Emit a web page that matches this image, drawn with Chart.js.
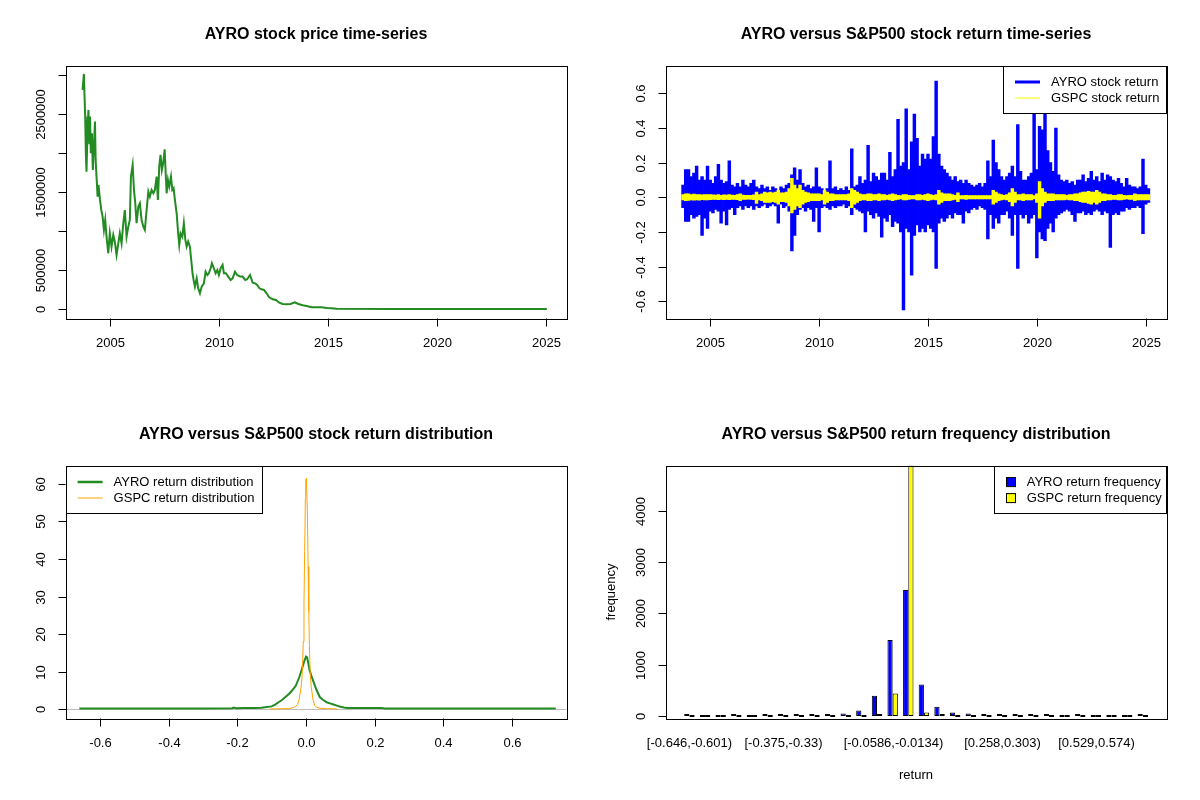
<!DOCTYPE html>
<html>
<head>
<meta charset="utf-8">
<script src="https://cdn.jsdelivr.net/npm/chart.js@4.4.1/dist/chart.umd.min.js"></script>
<style>
body { margin: 0; background: #fff; }
#wrap { position: relative; width: 1200px; height: 800px; }
canvas { position: absolute; }
</style>
</head>
<body>
<div id="wrap">
  <canvas id="priceChart" width="600" height="400" style="left:0;top:0"></canvas>
  <canvas id="returnChart" width="600" height="400" style="left:600px;top:0"></canvas>
  <canvas id="densityChart" width="600" height="400" style="left:0;top:400px"></canvas>
  <canvas id="histChart" width="600" height="400" style="left:600px;top:400px"></canvas>
</div>
<script>
// ---- data ----

// AYRO price (decimal year, price)
const priceYears = [2003.73, 2003.79, 2003.82, 2003.85, 2003.88, 2003.91, 2003.96, 2004.00, 2004.04, 2004.07,
  2004.11, 2004.16, 2004.20, 2004.25, 2004.30, 2004.33, 2004.37, 2004.42, 2004.46, 2004.53,
  2004.59, 2004.65, 2004.71, 2004.77, 2004.83, 2004.91, 2004.98, 2005.06, 2005.14, 2005.21,
  2005.29, 2005.37, 2005.44, 2005.52, 2005.60, 2005.67, 2005.75, 2005.83, 2005.90, 2005.95,
  2006.03, 2006.09, 2006.15, 2006.21, 2006.29, 2006.36, 2006.44, 2006.52, 2006.59, 2006.67,
  2006.75, 2006.82, 2006.90, 2006.98, 2007.05, 2007.13, 2007.19, 2007.25, 2007.31, 2007.37,
  2007.43, 2007.50, 2007.54, 2007.59, 2007.65, 2007.71, 2007.79, 2007.85, 2007.91, 2007.97,
  2008.05, 2008.12, 2008.17, 2008.23, 2008.31, 2008.38, 2008.45, 2008.51, 2008.58, 2008.66,
  2008.72, 2008.78, 2008.83, 2008.89, 2008.97, 2009.04, 2009.12, 2009.20, 2009.30, 2009.38,
  2009.46, 2009.53, 2009.61, 2009.67, 2009.76, 2009.84, 2009.92, 2009.99, 2010.07, 2010.16,
  2010.22, 2010.31, 2010.42, 2010.53, 2010.62, 2010.73, 2010.83, 2010.96, 2011.08, 2011.20,
  2011.29, 2011.42, 2011.54, 2011.65, 2011.75, 2011.85, 2011.95, 2012.06, 2012.18, 2012.30,
  2012.46, 2012.61, 2012.76, 2012.92, 2013.10, 2013.28, 2013.48, 2013.64, 2013.84, 2014.02,
  2014.25, 2014.48, 2014.71, 2014.94, 2015.17, 2015.40, 2018.00, 2025.05];
const priceValues = [2812000, 3017000, 2726000, 2470000, 2000000, 1765000, 2342000, 2556000, 2128000, 2470000,
  2000000, 2256000, 1786000, 2085000, 2406000, 1915000, 1701000, 1444000, 1594000, 1402000,
  1273000, 1188000, 1017000, 1145000, 932000, 718000, 974000, 803000, 953000, 868000,
  697000, 846000, 974000, 846000, 1103000, 1273000, 932000, 1060000, 1145000, 1701000,
  1850000, 1530000, 1359000, 1103000, 1316000, 1359000, 1145000, 1060000, 1017000, 1273000,
  1509000, 1444000, 1530000, 1487000, 1530000, 1701000, 1402000, 1829000, 1979000, 1786000,
  1872000, 2051000, 1786000, 1487000, 1658000, 1573000, 1701000, 1530000, 1551000, 1402000,
  1231000, 974000, 825000, 974000, 932000, 1103000, 889000, 803000, 868000, 803000,
  632000, 462000, 376000, 291000, 397000, 269000, 205000, 291000, 333000, 483000,
  440000, 462000, 526000, 590000, 526000, 462000, 504000, 440000, 526000, 568000,
  462000, 462000, 419000, 376000, 397000, 483000, 440000, 419000, 419000, 376000,
  385000, 440000, 342000, 333000, 312000, 269000, 256000, 248000, 205000, 154000,
  128000, 120000, 85000, 68000, 64000, 68000, 90000, 68000, 51000, 43000,
  26000, 26000, 26000, 17000, 13000, 8500, 5000, 4000];

// daily returns summarised as high / low swing per 1.5-month step, from 2003.75
const returnStart = 2003.75;
const returnStep = 1 / 8;
const ayroHigh = [
  0.07, 0.16,
  0.16, 0.12, 0.14, 0.18, 0.10, 0.12, 0.10, 0.18,
  0.10, 0.08, 0.12, 0.19, 0.10, 0.08, 0.09, 0.21,
  0.07, 0.06, 0.08, 0.06, 0.10, 0.07, 0.06, 0.08,
  0.10, 0.06, 0.05, 0.07, 0.05, 0.06, 0.04, 0.06,
  0.05, 0.04, 0.06, 0.05, 0.07, 0.08, 0.13, 0.17,
  0.10, 0.16, 0.08, 0.06, 0.07, 0.05, 0.06, 0.17,
  0.06, 0.05, 0.04, 0.05, 0.21, 0.05, 0.06, 0.04,
  0.05, 0.04, 0.06, 0.04, 0.28, 0.06, 0.07, 0.12,
  0.08, 0.10, 0.30, 0.09, 0.14, 0.12, 0.10, 0.14,
  0.14, 0.10, 0.26, 0.12, 0.16, 0.45, 0.18, 0.20,
  0.51, 0.16, 0.32, 0.48, 0.34, 0.18, 0.25, 0.22,
  0.25, 0.22, 0.35, 0.67, 0.25, 0.18, 0.16, 0.14,
  0.12, 0.10, 0.12, 0.09, 0.10, 0.08, 0.10, 0.08,
  0.07, 0.06, 0.07, 0.08, 0.06, 0.08, 0.21, 0.12,
  0.33, 0.20, 0.16, 0.12, 0.10, 0.12, 0.14, 0.18,
  0.12, 0.42, 0.15, 0.10, 0.10, 0.12, 0.14, 0.50,
  0.16, 0.41, 0.39, 0.48, 0.27, 0.20, 0.15, 0.40,
  0.13, 0.10, 0.09, 0.10, 0.08, 0.09, 0.07, 0.10,
  0.10, 0.13, 0.09, 0.11, 0.15, 0.10, 0.12, 0.09,
  0.14, 0.10, 0.13, 0.12, 0.10, 0.09, 0.11, 0.08,
  0.06, 0.11, 0.07, 0.06, 0.06, 0.05, 0.06, 0.22,
  0.07, 0.05];
const ayroLow = [
  -0.06, -0.14,
  -0.14, -0.10, -0.12, -0.11, -0.10, -0.22, -0.12, -0.18,
  -0.08, -0.09, -0.07, -0.08, -0.15, -0.08, -0.16, -0.07,
  -0.06, -0.10, -0.06, -0.05, -0.07, -0.05, -0.06, -0.05,
  -0.07, -0.05, -0.06, -0.05, -0.04, -0.06, -0.05, -0.04,
  -0.05, -0.15, -0.04, -0.06, -0.05, -0.08, -0.31, -0.22,
  -0.10, -0.07, -0.06, -0.08, -0.06, -0.07, -0.14, -0.06,
  -0.20, -0.06, -0.05, -0.06, -0.07, -0.05, -0.06, -0.05,
  -0.05, -0.04, -0.06, -0.05, -0.10, -0.06, -0.07, -0.08,
  -0.09, -0.20, -0.08, -0.10, -0.12, -0.09, -0.11, -0.23,
  -0.12, -0.14, -0.10, -0.17, -0.14, -0.15, -0.20, -0.65,
  -0.18, -0.20, -0.45, -0.22, -0.16, -0.20, -0.18, -0.20,
  -0.16, -0.18, -0.20, -0.41, -0.15, -0.12, -0.14, -0.12,
  -0.10, -0.12, -0.09, -0.10, -0.10, -0.15, -0.08, -0.09,
  -0.07, -0.06, -0.07, -0.05, -0.06, -0.07, -0.24, -0.10,
  -0.18, -0.12, -0.15, -0.10, -0.10, -0.08, -0.12, -0.22,
  -0.10, -0.41, -0.10, -0.12, -0.10, -0.15, -0.12, -0.10,
  -0.35, -0.20, -0.24, -0.25, -0.18, -0.15, -0.20, -0.12,
  -0.10, -0.09, -0.08, -0.07, -0.08, -0.10, -0.14, -0.09,
  -0.09, -0.08, -0.10, -0.09, -0.10, -0.08, -0.07, -0.08,
  -0.10, -0.08, -0.09, -0.29, -0.10, -0.09, -0.10, -0.08,
  -0.08, -0.06, -0.07, -0.06, -0.06, -0.05, -0.06, -0.21,
  -0.04, -0.03];
const gspcHigh = [
  0.015, 0.02,
  0.02, 0.015, 0.018, 0.015, 0.016, 0.014, 0.016, 0.015,
  0.015, 0.014, 0.013, 0.015, 0.012, 0.014, 0.013, 0.015,
  0.013, 0.012, 0.015, 0.02, 0.013, 0.012, 0.011, 0.012,
  0.014, 0.03, 0.015, 0.02, 0.03, 0.025, 0.03, 0.025,
  0.03, 0.04, 0.025, 0.025, 0.03, 0.05, 0.11, 0.07,
  0.05, 0.07, 0.04, 0.03, 0.025, 0.02, 0.02, 0.02,
  0.02, 0.015, 0.04, 0.03, 0.02, 0.02, 0.015, 0.015,
  0.015, 0.015, 0.015, 0.02, 0.05, 0.04, 0.03, 0.02,
  0.015, 0.015, 0.02, 0.02, 0.015, 0.015, 0.02, 0.015,
  0.015, 0.012, 0.015, 0.02, 0.015, 0.012, 0.01, 0.015,
  0.015, 0.012, 0.01, 0.01, 0.015, 0.015, 0.012, 0.015,
  0.02, 0.015, 0.012, 0.015, 0.04, 0.025, 0.02, 0.02,
  0.02, 0.015, 0.012, 0.025, 0.01, 0.01, 0.012, 0.01,
  0.01, 0.01, 0.01, 0.01, 0.01, 0.01, 0.01, 0.01,
  0.04, 0.03, 0.02, 0.015, 0.012, 0.015, 0.025, 0.05,
  0.03, 0.015, 0.015, 0.02, 0.015, 0.015, 0.015, 0.01,
  0.02, 0.09, 0.05, 0.03, 0.02, 0.02, 0.02, 0.015,
  0.015, 0.015, 0.015, 0.012, 0.015, 0.015, 0.02, 0.02,
  0.025, 0.03, 0.03, 0.035, 0.03, 0.03, 0.04, 0.03,
  0.02, 0.02, 0.015, 0.015, 0.012, 0.012, 0.015, 0.015,
  0.012, 0.01, 0.012, 0.012, 0.02, 0.015, 0.015, 0.015,
  0.015, 0.015];
const gspcLow = [
  -0.015, -0.02,
  -0.018, -0.015, -0.016, -0.015, -0.016, -0.014, -0.015, -0.015,
  -0.014, -0.013, -0.013, -0.014, -0.012, -0.014, -0.013, -0.014,
  -0.012, -0.012, -0.014, -0.02, -0.013, -0.012, -0.011, -0.012,
  -0.014, -0.035, -0.015, -0.02, -0.03, -0.03, -0.03, -0.025,
  -0.03, -0.04, -0.025, -0.025, -0.03, -0.05, -0.09, -0.07,
  -0.05, -0.06, -0.04, -0.03, -0.025, -0.02, -0.02, -0.02,
  -0.02, -0.015, -0.04, -0.03, -0.02, -0.02, -0.015, -0.015,
  -0.015, -0.015, -0.015, -0.02, -0.06, -0.04, -0.03, -0.02,
  -0.015, -0.015, -0.02, -0.02, -0.015, -0.015, -0.02, -0.015,
  -0.015, -0.012, -0.015, -0.02, -0.015, -0.012, -0.01, -0.015,
  -0.015, -0.012, -0.01, -0.01, -0.015, -0.015, -0.012, -0.015,
  -0.02, -0.015, -0.012, -0.015, -0.04, -0.03, -0.02, -0.02,
  -0.02, -0.015, -0.012, -0.025, -0.01, -0.01, -0.012, -0.01,
  -0.01, -0.01, -0.01, -0.01, -0.01, -0.01, -0.01, -0.01,
  -0.04, -0.03, -0.02, -0.015, -0.012, -0.015, -0.025, -0.05,
  -0.03, -0.015, -0.015, -0.02, -0.015, -0.015, -0.015, -0.01,
  -0.03, -0.12, -0.05, -0.03, -0.02, -0.02, -0.02, -0.015,
  -0.015, -0.015, -0.015, -0.012, -0.015, -0.015, -0.02, -0.02,
  -0.025, -0.03, -0.03, -0.035, -0.04, -0.03, -0.04, -0.03,
  -0.02, -0.02, -0.015, -0.015, -0.012, -0.012, -0.015, -0.015,
  -0.012, -0.01, -0.012, -0.012, -0.02, -0.015, -0.015, -0.015,
  -0.015, -0.015];

// return densities
const densAyroX = [-0.66, -0.5, -0.3, -0.215, -0.21, -0.205, -0.18, -0.15, -0.13, -0.12,
  -0.10, -0.09, -0.08, -0.07, -0.06, -0.05, -0.04, -0.03, -0.02, -0.015,
  -0.01, -0.005, 0.0, 0.003, 0.007, 0.01, 0.015, 0.02, 0.03, 0.04,
  0.05, 0.06, 0.07, 0.08, 0.09, 0.10, 0.11, 0.12, 0.20, 0.22,
  0.23, 0.50, 0.727];
const densAyroY = [0.15, 0.15, 0.15, 0.2, 0.4, 0.2, 0.3, 0.3, 0.35, 0.45,
  0.7, 1.2, 1.8, 2.4, 3.2, 4.0, 5.0, 6.2, 8.4, 9.8,
  11.3, 12.8, 14.0, 13.8, 12.0, 10.5, 9.0, 7.7, 5.2, 3.2,
  2.4, 1.8, 1.5, 1.2, 0.9, 0.6, 0.4, 0.3, 0.3, 0.25,
  0.15, 0.12, 0.12];
const densGspcX = [-0.105, -0.09, -0.07, -0.05, -0.04, -0.03, -0.025, -0.02, -0.015, -0.012,
  -0.01, -0.008, -0.006, -0.004, -0.002, -0.001, 0.0, 0.001, 0.002, 0.004,
  0.006, 0.008, 0.01, 0.012, 0.015, 0.02, 0.025, 0.03, 0.04, 0.06,
  0.08, 0.09];
const densGspcY = [0.02, 0.05, 0.08, 0.12, 0.3, 0.7, 1.2, 2.6, 5.5, 8,
  12, 18, 28, 42, 56, 60, 61.4, 61.5, 60, 52,
  38, 26, 16, 10, 6, 2.6, 1.0, 0.5, 0.2, 0.1,
  0.05, 0.02];

// return frequency (30 bins)
const binEdges = [-0.646, -0.601, -0.556, -0.51, -0.465, -0.42, -0.375, -0.33, -0.285, -0.239,
  -0.194, -0.149, -0.104, -0.0586, -0.0134, 0.0318, 0.077, 0.122, 0.167, 0.213,
  0.258, 0.303, 0.348, 0.393, 0.439, 0.484, 0.529, 0.574, 0.619, 0.664, 0.71];
const ayroFreq = [1, 0, 0, 1, 0, 1, 1, 3, 18, 16, 45, 105, 390, 1480, 2450,
  610, 180, 65, 45, 20, 3, 2, 1, 1, 0, 1, 0, 0, 0, 1];
const gspcFreq = [0, 0, 0, 0, 0, 0, 0, 0, 0, 0, 0, 0, 20, 435, 4875,
  65, 5, 0, 0, 0, 0, 0, 0, 0, 0, 0, 0, 0, 0, 0];

// ticks
const yearTicks = [2005, 2010, 2015, 2020, 2025];
const priceTicks = [0, 500000, 1000000, 1500000, 2000000, 2500000, 3000000];
const priceTickLabels = ['0', '500000', '', '1500000', '', '2500000', ''];
const returnTicks = [-0.6, -0.4, -0.2, 0, 0.2, 0.4, 0.6];
const returnTickLabels = ['-0.6', '-0.4', '-0.2', '0.0', '0.2', '0.4', '0.6'];
const densityTicks = [0, 10, 20, 30, 40, 50, 60];
const freqTicks = [0, 1000, 2000, 3000, 4000];
const histLabelIdx = [0, 6, 13, 20, 26];

// ---- drawing ----
const FONT = '"Liberation Sans", Arial, Helvetica, sans-serif';
const BOX = [65.6, 65.6, 566.4, 318.4];
const PAD = { left: 65.6, top: 65.6, right: 33.6, bottom: 81.6 };

function px(v) { return Math.round(v) + 0.5; }

// R-like frame, ticks, titles and legend
const rStyle = {
  id: 'rStyle',
  beforeDatasetsDraw(chart, args, o) {
    if (!o.zeroLine) return;
    const ctx = chart.ctx;
    const y = px(chart.scales.y.getPixelForValue(0));
    ctx.save();
    ctx.strokeStyle = '#bebebe';
    ctx.lineWidth = 1;
    ctx.beginPath();
    ctx.moveTo(BOX[0], y);
    ctx.lineTo(BOX[2], y);
    ctx.stroke();
    ctx.restore();
  },
  afterDraw(chart, args, o) {
    const ctx = chart.ctx;
    const xs = chart.scales.x, ys = chart.scales.y;
    ctx.save();
    ctx.fillStyle = '#000';
    ctx.strokeStyle = '#000';
    ctx.lineWidth = 1;

    ctx.font = 'bold 16px ' + FONT;
    ctx.textAlign = 'center';
    ctx.textBaseline = 'middle';
    ctx.fillText(o.title, (BOX[0] + BOX[2]) / 2, BOX[1] - 31);

    ctx.strokeRect(px(BOX[0]), px(BOX[1]), Math.round(BOX[2] - BOX[0]), Math.round(BOX[3] - BOX[1]));

    ctx.font = '13px ' + FONT;
    // x axis
    o.xTicks.forEach((v, i) => {
      const x = px(xs.getPixelForValue(v));
      if (o.xTickMarks) {
        ctx.beginPath();
        ctx.moveTo(x, px(BOX[3]));
        ctx.lineTo(x, px(BOX[3]) + 8);
        ctx.stroke();
      }
      if (o.xLabels[i]) ctx.fillText(o.xLabels[i], x, BOX[3] + 25);
    });
    // y axis
    o.yTicks.forEach((v, i) => {
      const y = px(ys.getPixelForValue(v));
      ctx.beginPath();
      ctx.moveTo(px(BOX[0]), y);
      ctx.lineTo(px(BOX[0]) - 8, y);
      ctx.stroke();
      if (o.yLabels[i]) {
        ctx.save();
        ctx.translate(BOX[0] - 24, y);
        ctx.rotate(-Math.PI / 2);
        ctx.fillText(o.yLabels[i], 0, 0);
        ctx.restore();
      }
    });
    if (o.xTitle) ctx.fillText(o.xTitle, (BOX[0] + BOX[2]) / 2, BOX[3] + 57);
    if (o.yTitle) {
      ctx.save();
      ctx.translate(BOX[0] - 54, (BOX[1] + BOX[3]) / 2);
      ctx.rotate(-Math.PI / 2);
      ctx.fillText(o.yTitle, 0, 0);
      ctx.restore();
    }

    // legend
    const lg = o.legend;
    if (lg) {
      ctx.fillStyle = '#fff';
      ctx.fillRect(lg.x, lg.y, lg.w, lg.h);
      ctx.strokeStyle = '#000';
      ctx.strokeRect(px(lg.x), px(lg.y), Math.round(lg.w), Math.round(lg.h));
      ctx.textAlign = 'left';
      lg.items.forEach((it, i) => {
        const y = lg.y + 16.5 + 16 * i;
        if (it.box) {
          ctx.fillStyle = it.color;
          ctx.fillRect(lg.x + 12, y - 5, 9, 9);
          ctx.strokeStyle = '#000';
          ctx.strokeRect(lg.x + 12.5, y - 4.5, 9, 9);
        } else {
          ctx.strokeStyle = it.color;
          ctx.lineWidth = it.width;
          ctx.beginPath();
          ctx.moveTo(lg.x + 12, Math.round(y));
          ctx.lineTo(lg.x + 37, Math.round(y));
          ctx.stroke();
          ctx.lineWidth = 1;
        }
        ctx.fillStyle = '#000';
        ctx.fillText(it.label, lg.x + lg.textX, y);
      });
    }
    ctx.restore();
  }
};

Chart.register(rStyle);
Chart.defaults.font.family = FONT;

function baseOptions(xmin, xmax, ymin, ymax, style, pad) {
  return {
    responsive: false,
    animation: false,
    devicePixelRatio: 1,
    layout: { padding: pad || PAD },
    plugins: { legend: { display: false }, tooltip: { enabled: false }, rStyle: style },
    scales: {
      x: { type: 'linear', display: false, min: xmin, max: xmax, offset: false },
      y: { type: 'linear', display: false, min: ymin, max: ymax }
    }
  };
}

function lineSet(xs, ys, color, width, order) {
  return {
    data: xs.map((x, i) => ({ x: x, y: ys[i] })),
    borderColor: color,
    borderWidth: width,
    pointRadius: 0,
    fill: false,
    tension: 0,
    order: order || 0
  };
}

// each step is a vertical stroke from the low to the high return of that period
function swingSet(high, low, color, thickness, order) {
  return {
    type: 'bar',
    data: high.map((h, i) => ({ x: returnStart + i * returnStep, y: [low[i], h] })),
    backgroundColor: color,
    borderWidth: 0,
    barThickness: thickness,
    grouped: false,
    order: order
  };
}

// price time-series
new Chart(document.getElementById('priceChart'), {
  type: 'line',
  data: { datasets: [lineSet(priceYears, priceValues, '#228B22', 2)] },
  options: baseOptions(2002.95, 2025.95, -116700, 3124000, {
    title: 'AYRO stock price time-series',
    xTicks: yearTicks, xLabels: yearTicks.map(String), xTickMarks: true,
    yTicks: priceTicks, yLabels: priceTickLabels
  })
});

// return time-series
new Chart(document.getElementById('returnChart'), {
  type: 'bar',
  data: { datasets: [
    swingSet(ayroHigh, ayroLow, '#0000FF', 2.8, 1),
    swingSet(gspcHigh, gspcLow, '#FFFF00', 2.8, 0)
  ] },
  options: baseOptions(2002.95, 2025.95, -0.699, 0.760, {
    title: 'AYRO versus S&P500 stock return time-series',
    xTicks: yearTicks, xLabels: yearTicks.map(String), xTickMarks: true,
    yTicks: returnTicks, yLabels: returnTickLabels,
    legend: { x: 403, y: 65.6, w: 163.4, h: 47.4, textX: 48, items: [
      { label: 'AYRO stock return', color: '#0000FF', width: 3 },
      { label: 'GSPC stock return', color: '#FFFF00', width: 1 }
    ] }
  })
});

// return distribution
new Chart(document.getElementById('densityChart'), {
  type: 'line',
  data: { datasets: [
    lineSet(densAyroX, densAyroY, '#228B22', 2, 1),
    lineSet(densGspcX, densGspcY, '#FFA500', 1, 0)
  ] },
  options: baseOptions(-0.700, 0.758, -2.5, 64.9, {
    title: 'AYRO versus S&P500 stock return distribution',
    zeroLine: true,
    xTicks: returnTicks, xLabels: returnTickLabels, xTickMarks: true,
    yTicks: densityTicks, yLabels: densityTicks.map(String),
    legend: { x: 65.6, y: 65.6, w: 196.4, h: 47.4, textX: 48, items: [
      { label: 'AYRO return distribution', color: '#228B22', width: 2.5 },
      { label: 'GSPC return distribution', color: '#FFA500', width: 1 }
    ] }
  })
});

// return frequency distribution
const histLabels = ayroFreq.map((_, i) => '[' + binEdges[i] + ',' + binEdges[i + 1] + ')');
const histOpts = baseOptions(0, 1, -48.75, 4875, {
  title: 'AYRO versus S&P500 return frequency distribution',
  xTicks: histLabelIdx, xLabels: histLabelIdx.map(i => histLabels[i]), xTickMarks: false,
  yTicks: freqTicks, yLabels: freqTicks.map(String),
  xTitle: 'return', yTitle: 'frequency',
  legend: { x: 394, y: 65.6, w: 172.4, h: 47.4, textX: 32.7, items: [
    { label: 'AYRO return frequency', color: '#0000FF', box: true },
    { label: 'GSPC return frequency', color: '#FFFF00', box: true }
  ] }
}, { left: 81.6, top: 65.6, right: 49.4, bottom: 81.6 });
histOpts.scales.x = { type: 'category', display: false, offset: true };

new Chart(document.getElementById('histChart'), {
  type: 'bar',
  data: {
    labels: histLabels,
    datasets: [
      { data: ayroFreq, backgroundColor: '#0000FF', borderColor: '#000', borderWidth: 1,
        borderSkipped: false, minBarLength: 2, categoryPercentage: 2 / 3, barPercentage: 1 },
      { data: gspcFreq, backgroundColor: '#FFFF00', borderColor: '#000', borderWidth: 1,
        borderSkipped: false, minBarLength: 2, categoryPercentage: 2 / 3, barPercentage: 1 }
    ]
  },
  options: histOpts
});
</script>
</body>
</html>
